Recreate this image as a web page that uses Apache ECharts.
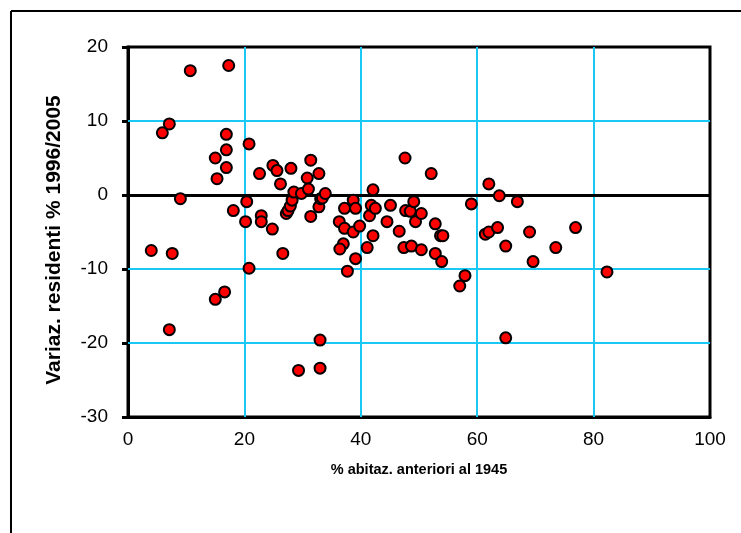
<!DOCTYPE html>
<html>
<head>
<meta charset="utf-8">
<script src="https://cdn.jsdelivr.net/npm/echarts@6/dist/echarts.min.js"></script>
<style>
html,body{margin:0;padding:0;background:#fff;}
#chart{width:741px;height:533px;}
</style>
</head>
<body>
<div id="chart"></div>
<script>
// % abitazioni anteriori al 1945 (x) and variazione residenti % 1996/2005 (y)
var xValues = [4.0, 5.9, 7.1, 7.1, 7.6, 9.0, 10.7, 15.0, 15.0, 15.3, 16.6, 16.9, 16.9, 16.9, 17.3, 18.1, 20.2, 20.4, 20.8, 20.8,
  22.6, 22.9, 22.9, 24.8, 24.9, 25.6, 26.2, 26.6, 27.2, 27.5, 27.9, 28.2, 28.0, 28.5, 29.3, 29.8, 30.8, 31.0, 31.4, 31.4,
  32.8, 32.8, 33.1, 33.4, 33.9, 33.0, 33.0, 36.3, 37.0, 36.4, 37.2, 37.2, 37.7, 38.7, 38.7, 39.1, 39.8, 39.1, 41.1, 41.5,
  41.8, 42.1, 42.5, 42.1, 44.5, 45.1, 46.6, 47.6, 47.7, 48.5, 47.4, 48.7, 49.1, 49.4, 50.4, 50.4, 52.1, 52.8, 52.8, 53.7,
  54.1, 53.9, 57.0, 57.9, 59.0, 61.4, 62.0, 62.0, 63.5, 63.8, 64.9, 64.9, 66.9, 69.0, 69.6, 73.5, 76.9, 82.3];
var yValues = [-7.5, 8.4, 9.6, -18.2, -7.9, -0.5, 16.8, 5.0, -14.1, 2.2, -13.1, 8.2, 6.1, 3.7, 17.5, -2.1, -3.6, -0.9, 6.9, -9.9,
  2.9, -2.8, -3.6, -4.6, 4.0, 3.3, 1.5, -7.9, -2.5, -2.1, -1.5, -0.7, 3.6, 0.4, -23.7, 0.2, 2.3, 0.8, 4.7, -2.9,
  2.9, -1.6, -0.5, -0.4, 0.2, -19.6, -23.4, -3.6, -6.6, -7.3, -1.8, -4.5, -10.3, -0.7, -5.0, -1.8, -4.2, -8.6, -7.1, -2.8,
  -1.4, 0.7, -1.8, -5.5, -3.6, -1.4, -4.9, 5.0, -2.1, -2.2, -7.1, -6.9, -0.9, -3.6, -2.5, -7.4, 2.9, -3.9, -7.9, -5.5,
  -5.5, -9.0, -12.3, -10.9, -1.2, -5.3, -5.0, 1.5, -4.4, -0.1, -6.9, -19.3, -0.9, -5.0, -9.0, -7.1, -4.4, -10.4];
var xTicks = {min: 0, max: 100, step: 20};
var yTicks = {min: -30, max: 20, step: 10};
var xGridValues = [20, 40, 60, 80];
var yGridValues = [10, -10, -20];
var zeroValue = 0;
var xTitle = '% abitaz. anteriori al 1945';
var yTitle = 'Variaz. residenti % 1996/2005';

var points = xValues.map(function (x, i) { return [x, yValues[i]]; });
var FONT = '"Liberation Sans", Arial, sans-serif';
var CYAN = '#1AC8F5';

var guideLines = [];
xGridValues.forEach(function (v) { guideLines.push({xAxis: v, lineStyle: {color: CYAN, width: 2, type: 'solid'}}); });
yGridValues.forEach(function (v) { guideLines.push({yAxis: v, lineStyle: {color: CYAN, width: 2, type: 'solid'}}); });
guideLines.push({yAxis: zeroValue, lineStyle: {color: '#000', width: 3, type: 'solid'}});

var chart = echarts.init(document.getElementById('chart'), null, {renderer: 'canvas'});
chart.setOption({
  backgroundColor: '#ffffff',
  animation: false,
  graphic: [
    {type: 'line', shape: {x1: 11, y1: 11, x2: 741, y2: 11}, style: {stroke: '#000', lineWidth: 2}},
    {type: 'line', shape: {x1: 11, y1: 11, x2: 11, y2: 533}, style: {stroke: '#000', lineWidth: 2}}
  ],
  grid: {left: 128, right: 31, top: 47, bottom: 116, show: true, borderColor: '#000', borderWidth: 3, z: 4},
  xAxis: {
    type: 'value', min: xTicks.min, max: xTicks.max, interval: xTicks.step,
    name: xTitle, nameLocation: 'middle', nameGap: 45,
    nameTextStyle: {fontFamily: FONT, fontWeight: 'bold', fontSize: 14.5, color: '#000'},
    axisLine: {show: true, onZero: false, lineStyle: {color: '#000', width: 3}},
    axisTick: {show: false},
    axisLabel: {fontFamily: FONT, fontSize: 19, color: '#000', margin: 13},
    splitLine: {show: false}
  },
  yAxis: {
    type: 'value', min: yTicks.min, max: yTicks.max, interval: yTicks.step,
    name: yTitle, nameLocation: 'middle', nameGap: 63, nameRotate: 90,
    nameTextStyle: {fontFamily: FONT, fontWeight: 'bold', fontSize: 21, color: '#000', padding: [0, 16, 0, 0]},
    axisLine: {show: true, onZero: false, lineStyle: {color: '#000', width: 3}},
    axisTick: {show: true, length: 6, lineStyle: {color: '#000', width: 3}},
    axisLabel: {fontFamily: FONT, fontSize: 19, color: '#000', margin: 20},
    splitLine: {show: false}
  },
  series: [{
    type: 'line',
    data: [],
    silent: true,
    z: 1,
    markLine: {
      silent: true, symbol: 'none', label: {show: false}, animation: false,
      data: guideLines
    }
  }, {
    type: 'scatter',
    data: points,
    symbol: 'circle',
    symbolSize: 11,
    itemStyle: {color: '#FF0000', borderColor: '#000', borderWidth: 2, opacity: 1},
    z: 5
  }]
});
</script>
</body>
</html>
